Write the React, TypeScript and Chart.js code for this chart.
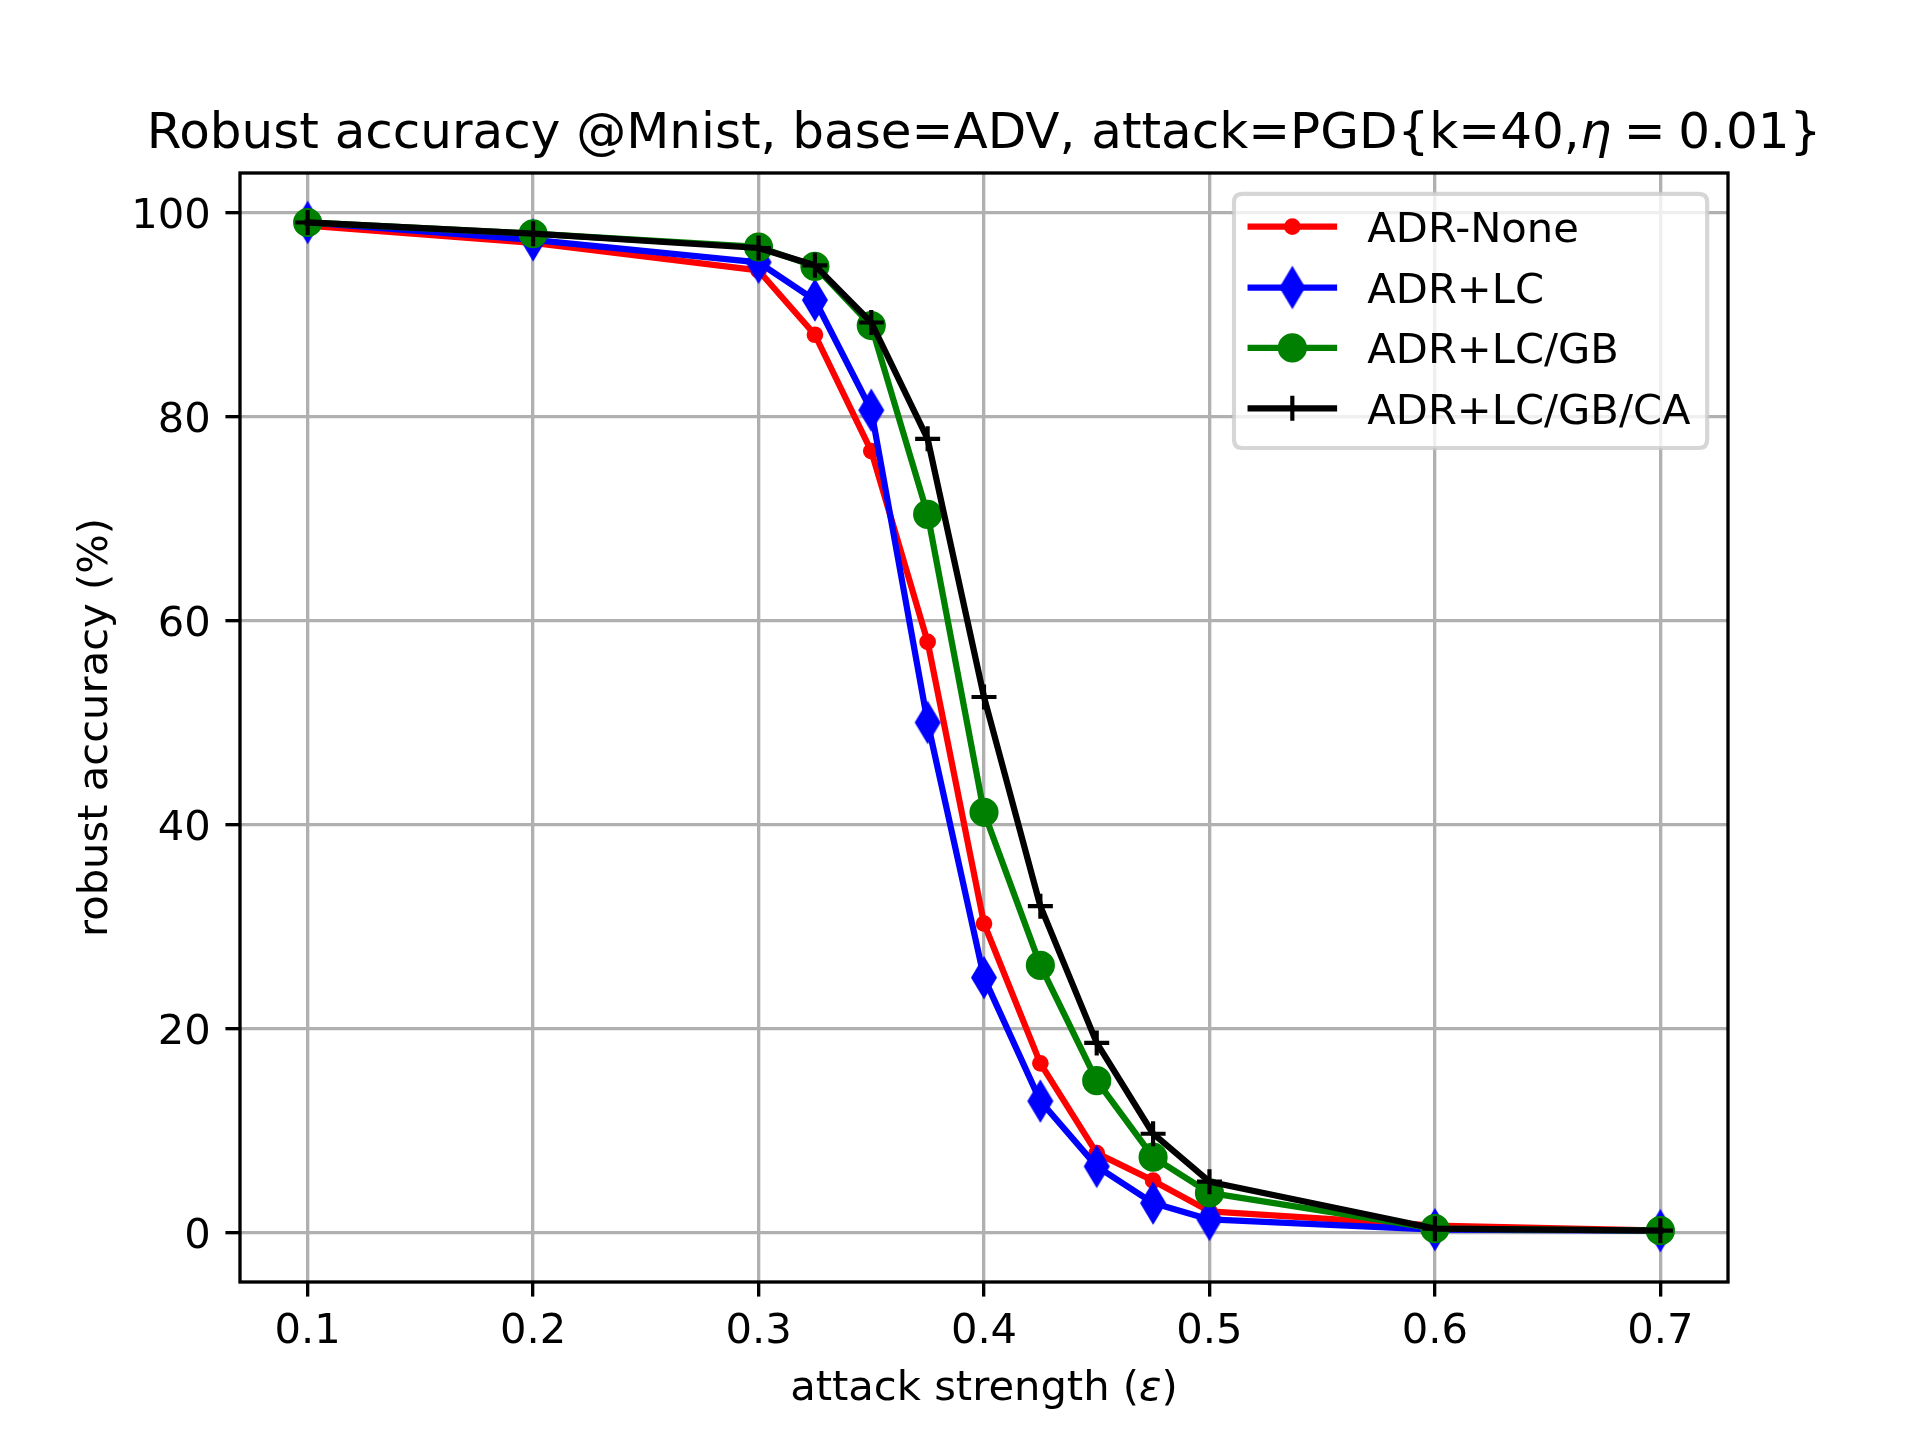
import React, { useEffect, useRef } from 'react';
import { Chart, registerables } from 'chart.js';

Chart.register(...registerables);

// ---- data ----
const epsilons = [0.1, 0.2, 0.3, 0.325, 0.35, 0.375, 0.4, 0.425, 0.45, 0.475, 0.5, 0.6, 0.7];
const adrNone = [98.7, 97.0, 94.3, 88.0, 76.6, 57.9, 30.3, 16.6, 7.8, 5.1, 2.1, 0.7, 0.2];
const adrLC = [99.0, 97.3, 95.1, 91.4, 80.6, 50.0, 25.0, 12.9, 6.5, 2.9, 1.3, 0.3, 0.2];
const adrLCGB = [99.0, 97.9, 96.6, 94.7, 88.9, 70.4, 41.2, 26.2, 14.9, 7.4, 3.9, 0.4, 0.2];
const adrLCGBCA = [99.0, 97.9, 96.5, 94.8, 89.2, 77.8, 52.5, 32.0, 18.6, 9.7, 5.0, 0.4, 0.2];
const seriesLabels = ['ADR-None', 'ADR+LC', 'ADR+LC/GB', 'ADR+LC/GB/CA'];
const seriesColors = ['#ff0000', '#0000ff', '#008000', '#000000'];
const xTickValues = [0.1, 0.2, 0.3, 0.4, 0.5, 0.6, 0.7];
const yTickValues = [0, 20, 40, 60, 80, 100];
const titleSegments = [
  { text: 'Robust accuracy @Mnist, base=ADV, attack=PGD{k=40,', italic: false, gap: 0 },
  { text: 'η', italic: true, gap: 0.25 },
  { text: '=', italic: false, gap: 0.25 },
  { text: '0.01}', italic: false, gap: 0 },
];
const xLabelSegments = [
  { text: 'attack strength (', italic: false, gap: 0 },
  { text: 'ε', italic: true, gap: 0 },
  { text: ')', italic: false, gap: 0 },
];
const yLabelText = 'robust accuracy (%)';

const FAMILY = '"DejaVu Sans"';
const PT = 300 / 72;
const fontStr = (italic: boolean, size: number) => `${italic ? 'italic ' : ''}${size}px ${FAMILY}`;

function makeThinDiamond(color: string) {
  const hh = 17.7;
  const hw = 10.6;
  const lw = 1.0 * PT;
  const W = 32;
  const H = 52;
  const c = document.createElement('canvas');
  c.width = W;
  c.height = H;
  const g = c.getContext('2d')!;
  g.translate(W / 2, H / 2);
  g.beginPath();
  g.moveTo(0, -hh);
  g.lineTo(hw, 0);
  g.lineTo(0, hh);
  g.lineTo(-hw, 0);
  g.closePath();
  g.fillStyle = color;
  g.fill();
  g.lineWidth = lw;
  g.lineJoin = 'miter';
  g.strokeStyle = color;
  g.stroke();
  return c;
}

function drawMixed(
  ctx: CanvasRenderingContext2D,
  segs: { text: string; italic: boolean; gap: number }[],
  cx: number,
  y: number,
  size: number
) {
  let total = 0;
  const widths = segs.map((s) => {
    ctx.font = fontStr(s.italic, size);
    const w = ctx.measureText(s.text).width + s.gap * size;
    total += w;
    return w;
  });
  let x = cx - total / 2;
  ctx.textAlign = 'left';
  ctx.textBaseline = 'alphabetic';
  ctx.fillStyle = '#000';
  segs.forEach((s, i) => {
    ctx.font = fontStr(s.italic, size);
    ctx.fillText(s.text, x, y);
    x += widths[i];
  });
}

export default function App() {
  const ref = useRef<HTMLCanvasElement | null>(null);

  useEffect(() => {
    document.body.style.margin = '0';
    const canvas = ref.current!;
    const diamond = makeThinDiamond('#0000ff');

    const markerR = 6 * PT / 2; // 12.5
    const edgeW = 1.0 * PT;
    const lineW = 1.5 * PT;

    const pointStyles: any[] = ['circle', diamond, 'circle', 'cross'];
    const pointRadii = [markerR / 2, 10, markerR, markerR];
    const allSeries = [adrNone, adrLC, adrLCGB, adrLCGBCA];

    const datasets = allSeries.map((arr, i) => ({
      label: seriesLabels[i],
      data: epsilons.map((x, j) => ({ x, y: arr[j] })),
      borderColor: seriesColors[i],
      backgroundColor: seriesColors[i],
      borderWidth: lineW,
      borderJoinStyle: 'round' as const,
      borderCapStyle: 'square' as const,
      pointStyle: pointStyles[i],
      pointRadius: pointRadii[i],
      pointHoverRadius: pointRadii[i],
      pointBorderWidth: edgeW,
      pointHoverBorderWidth: edgeW,
      pointBackgroundColor: seriesColors[i],
      pointBorderColor: seriesColors[i],
      tension: 0,
      fill: false,
      order: 4 - i,
    }));

    const decor = {
      id: 'decor',
      afterDatasetsDraw(chart: any) {
        const { ctx, chartArea: a } = chart;
        ctx.save();
        ctx.strokeStyle = '#000';
        ctx.lineWidth = 0.8 * PT;
        ctx.lineJoin = 'miter';
        ctx.strokeRect(a.left, a.top, a.right - a.left, a.bottom - a.top);
        ctx.restore();
      },
      afterDraw(chart: any) {
        const { ctx, chartArea: a } = chart;
        const cx = (a.left + a.right) / 2;
        ctx.save();
        // title
        drawMixed(ctx, titleSegments, cx, a.top - 6 * PT, 12 * PT);
        // x label
        drawMixed(ctx, xLabelSegments, cx, 1400, 10 * PT);
        // y label
        ctx.save();
        ctx.translate(106.5, (a.top + a.bottom) / 2);
        ctx.rotate(-Math.PI / 2);
        ctx.font = fontStr(false, 10 * PT);
        ctx.textAlign = 'center';
        ctx.textBaseline = 'alphabetic';
        ctx.fillStyle = '#000';
        ctx.fillText(yLabelText, 0, 0);
        ctx.restore();

        // legend
        const fs = 10 * PT;
        const boxL = 1234;
        const boxR = a.right - 0.5 * fs;
        const boxT = a.top + 0.5 * fs;
        const boxB = 448;
        const rr = 0.2 * fs;
        ctx.beginPath();
        ctx.moveTo(boxL + rr, boxT);
        ctx.lineTo(boxR - rr, boxT);
        ctx.quadraticCurveTo(boxR, boxT, boxR, boxT + rr);
        ctx.lineTo(boxR, boxB - rr);
        ctx.quadraticCurveTo(boxR, boxB, boxR - rr, boxB);
        ctx.lineTo(boxL + rr, boxB);
        ctx.quadraticCurveTo(boxL, boxB, boxL, boxB - rr);
        ctx.lineTo(boxL, boxT + rr);
        ctx.quadraticCurveTo(boxL, boxT, boxL + rr, boxT);
        ctx.closePath();
        ctx.fillStyle = 'rgba(255,255,255,0.8)';
        ctx.fill();
        ctx.strokeStyle = 'rgba(204,204,204,0.8)';
        ctx.lineWidth = 1.0 * PT;
        ctx.stroke();

        const rowY = [226.7, 287.5, 347.9, 408.3];
        const hx0 = boxL + 0.4 * fs;
        const hx1 = hx0 + 2.0 * fs;
        const mx = (hx0 + hx1) / 2;
        const tx = hx1 + 0.8 * fs;
        for (let i = 0; i < 4; i++) {
          const y = rowY[i];
          const col = seriesColors[i];
          ctx.beginPath();
          ctx.moveTo(hx0, y);
          ctx.lineTo(hx1, y);
          ctx.strokeStyle = col;
          ctx.lineWidth = lineW;
          ctx.lineCap = 'square';
          ctx.stroke();
          ctx.lineCap = 'butt';
          if (i === 0 || i === 2) {
            const r = i === 0 ? markerR / 2 : markerR;
            ctx.beginPath();
            ctx.arc(mx, y, r, 0, Math.PI * 2);
            ctx.fillStyle = col;
            ctx.fill();
            ctx.lineWidth = edgeW;
            ctx.strokeStyle = col;
            ctx.stroke();
          } else if (i === 1) {
            ctx.drawImage(diamond, mx - diamond.width / 2, y - diamond.height / 2);
          } else {
            ctx.beginPath();
            ctx.moveTo(mx - markerR, y);
            ctx.lineTo(mx + markerR, y);
            ctx.moveTo(mx, y - markerR);
            ctx.lineTo(mx, y + markerR);
            ctx.strokeStyle = col;
            ctx.lineWidth = edgeW;
            ctx.stroke();
          }
          ctx.font = fontStr(false, fs);
          ctx.textAlign = 'left';
          ctx.textBaseline = 'alphabetic';
          ctx.fillStyle = '#000';
          ctx.fillText(seriesLabels[i], tx, y + 15.2);
        }
        ctx.restore();
      },
    };

    const tickFont = { family: 'DejaVu Sans', size: 10 * PT };
    const gridCommon = {
      color: '#b0b0b0',
      lineWidth: 0.8 * PT,
      tickColor: '#000',
      tickWidth: 0.8 * PT,
      tickLength: 3.5 * PT,
      drawTicks: true,
      drawOnChartArea: true,
    };

    const chart = new Chart(canvas, {
      type: 'line',
      data: { datasets },
      options: {
        animation: false,
        responsive: false,
        devicePixelRatio: 1,
        layout: { padding: { top: 173, right: 192, bottom: 0, left: 0 } },
        plugins: {
          legend: { display: false },
          title: { display: false },
          tooltip: { enabled: false },
        },
        events: [],
        scales: {
          x: {
            type: 'linear',
            min: 0.07,
            max: 0.73,
            grid: gridCommon,
            border: { display: false },
            afterBuildTicks: (s: any) => {
              s.ticks = xTickValues.map((value) => ({ value }));
            },
            ticks: {
              autoSkip: false,
              maxRotation: 0,
              font: tickFont,
              color: '#000',
              padding: 11,
              callback: (v: any) => Number(v).toFixed(1),
            },
            afterFit: (s: any) => {
              s.height = 158;
            },
          },
          y: {
            type: 'linear',
            min: -4.83,
            max: 103.85,
            grid: gridCommon,
            border: { display: false },
            afterBuildTicks: (s: any) => {
              s.ticks = yTickValues.map((value) => ({ value }));
            },
            ticks: {
              autoSkip: false,
              font: tickFont,
              color: '#000',
              padding: 3.5 * PT,
              labelOffset: 4.5,
              callback: (v: any) => String(Math.round(Number(v))),
            },
            afterFit: (s: any) => {
              s.width = 240;
            },
          },
        },
      } as any,
      plugins: [decor],
    });

    return () => {
      chart.destroy();
    };
  }, []);

  return <canvas ref={ref} width={1920} height={1440} style={{ display: 'block', width: 1920, height: 1440 }} />;
}
